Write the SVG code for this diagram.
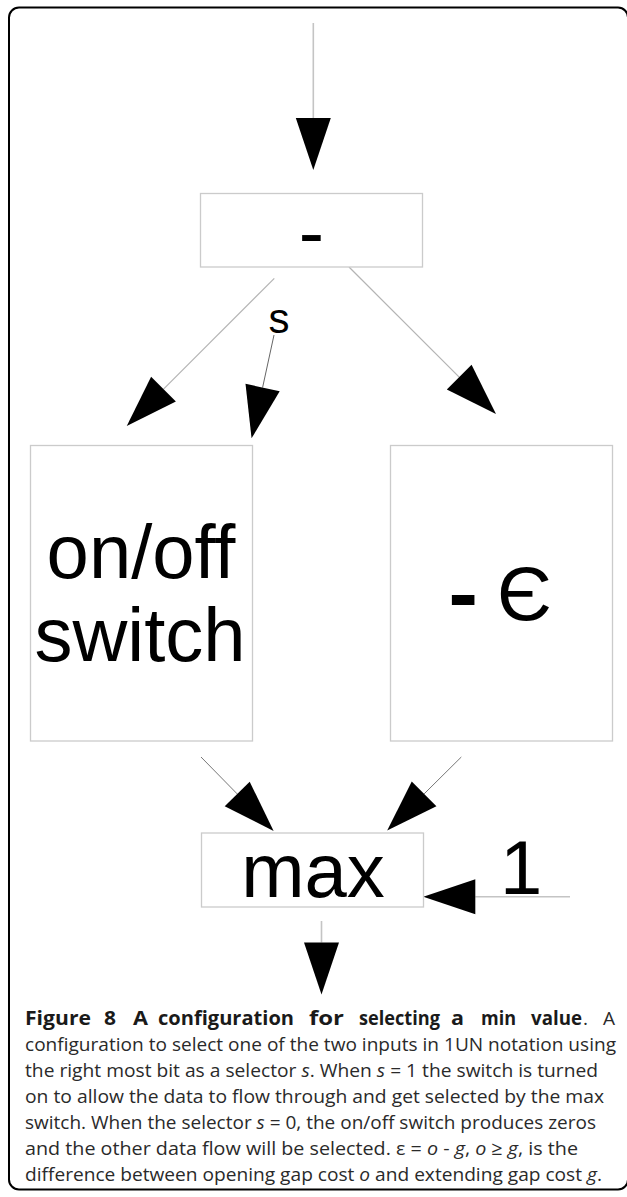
<svg xmlns="http://www.w3.org/2000/svg" width="627" height="1197" viewBox="0 0 627 1197">
  <style>
    .frame { fill: #fff; stroke: #000; stroke-width: 2; }
    .box { fill: #fff; stroke: #cbcbcb; stroke-width: 1.3; }
    .lbl { font-family: "Liberation Sans", Arial, sans-serif; font-size: 76px; fill: #000; text-anchor: middle; }
    .small { font-size: 42px; }
    .wire { fill: none; stroke: #b4b4b4; stroke-width: 1.2; }
    .wire-light { fill: none; stroke: #c4c4c4; stroke-width: 1.6; }
    .wire-dark { fill: none; stroke: #555; stroke-width: 0.9; }
    .wire-mid { fill: none; stroke: #777; stroke-width: 1; }
    .cap { font-family: "Open Sans", "Noto Sans", sans-serif; font-size: 19px; fill: #2a2a2a; }
    .capb { font-weight: bold; fill: #1a1a1a; }
    .it { font-style: italic; }
  </style>
  <defs>
    <marker id="head" markerUnits="userSpaceOnUse" viewBox="0 -17.5 52 35" markerWidth="52" markerHeight="35" refX="0" refY="0" orient="auto" overflow="visible">
      <polygon points="0,-17.5 52,0 0,17.5" fill="#000"/>
    </marker>
  </defs>

  <!-- outer panel -->
  <rect class="frame" x="9" y="7.5" width="619" height="1182" rx="10" ry="10"/>

  <!-- connectors -->
  <g id="connectors">
    <line class="wire-light" x1="313.3" y1="23" x2="313.3" y2="118" marker-end="url(#head)"/>
    <line class="wire" x1="274.3" y1="278.3" x2="163.5" y2="389.2" marker-end="url(#head)"/>
    <line class="wire-dark" x1="274" y1="335" x2="262.6" y2="387.5" marker-end="url(#head)"/>
    <line class="wire" x1="349" y1="267" x2="459.2" y2="377.2" marker-end="url(#head)"/>
    <line class="wire-mid" x1="201" y1="757" x2="237.2" y2="793.9" marker-end="url(#head)"/>
    <line class="wire-mid" x1="461.3" y1="757" x2="424.1" y2="793.9" marker-end="url(#head)"/>
    <line class="wire-light" x1="570" y1="896.7" x2="475.3" y2="896.7" marker-end="url(#head)"/>
    <line class="wire-light" x1="321.5" y1="921" x2="321.5" y2="942.5" marker-end="url(#head)"/>
    <text class="lbl small" x="279" y="333">s</text>
    <text class="lbl" x="500" y="894" style="text-anchor:start">1</text>
  </g>

  <!-- subtract node -->
  <g id="subtract">
    <rect class="box" x="200.5" y="193.5" width="222" height="73.5"/>
    <text class="lbl" x="311.5" y="257.5">-</text>
  </g>

  <!-- on/off switch node -->
  <g id="switch">
    <rect class="box" x="30.5" y="445.5" width="222" height="295.5"/>
    <text class="lbl" x="141" y="577.7">on/off</text>
    <text class="lbl" x="140" y="661">switch</text>
  </g>

  <!-- minus epsilon node -->
  <g id="minus-eps">
    <rect class="box" x="390.5" y="445.5" width="222" height="295.5"/>
    <text class="lbl" x="501" y="620"><tspan stroke="#000" stroke-width="4">-</tspan> Є</text>
  </g>

  <!-- max node -->
  <g id="max">
    <rect class="box" x="201.5" y="833" width="222" height="74"/>
    <text class="lbl" x="313" y="896.7">max</text>
  </g>

  <!-- caption -->
  <g id="caption" class="cap">
    <text y="1025"><tspan class="capb" x="25" textLength="66" lengthAdjust="spacingAndGlyphs">Figure</tspan><tspan class="capb" x="104" textLength="12" lengthAdjust="spacingAndGlyphs">8</tspan><tspan class="capb" x="133" textLength="15" lengthAdjust="spacingAndGlyphs">A</tspan><tspan class="capb" x="158" textLength="136" lengthAdjust="spacingAndGlyphs">configuration</tspan><tspan class="capb" x="309" textLength="35" lengthAdjust="spacingAndGlyphs">for</tspan><tspan class="capb" x="359" textLength="81" lengthAdjust="spacingAndGlyphs">selecting</tspan><tspan class="capb" x="451" textLength="13" lengthAdjust="spacingAndGlyphs">a</tspan><tspan class="capb" x="481" textLength="35" lengthAdjust="spacingAndGlyphs">min</tspan><tspan class="capb" x="531" textLength="51" lengthAdjust="spacingAndGlyphs">value</tspan><tspan x="583">.</tspan><tspan x="603">A</tspan></text>
    <text x="25" y="1051" textLength="591" lengthAdjust="spacingAndGlyphs">configuration to select one of the two inputs in 1UN notation using</text>
    <text x="25" y="1077" textLength="573" lengthAdjust="spacingAndGlyphs">the right most bit as a selector <tspan class="it">s</tspan>. When <tspan class="it">s</tspan> = 1 the switch is turned</text>
    <text x="25" y="1103" textLength="579" lengthAdjust="spacingAndGlyphs">on to allow the data to flow through and get selected by the max</text>
    <text x="25" y="1129" textLength="571" lengthAdjust="spacingAndGlyphs">switch. When the selector <tspan class="it">s</tspan> = 0, the on/off switch produces zeros</text>
    <text x="25" y="1155" textLength="553" lengthAdjust="spacingAndGlyphs">and the other data flow will be selected. ε = <tspan class="it">o</tspan> - <tspan class="it">g</tspan>, <tspan class="it">o</tspan> ≥ <tspan class="it">g</tspan>, is the</text>
    <text x="25" y="1181" textLength="577" lengthAdjust="spacingAndGlyphs">difference between opening gap cost <tspan class="it">o</tspan> and extending gap cost <tspan class="it">g</tspan>.</text>
  </g>
</svg>
